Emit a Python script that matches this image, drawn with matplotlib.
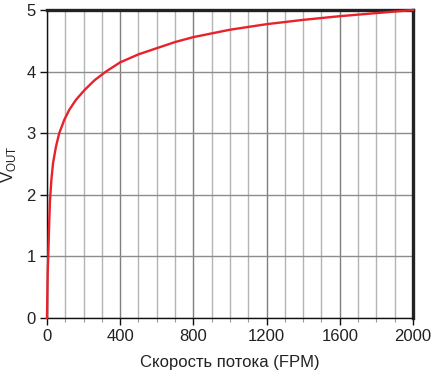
import matplotlib
matplotlib.use("Agg")
import matplotlib.pyplot as plt
from matplotlib.ticker import MultipleLocator

plt.rcParams['font.family'] = ['Liberation Sans', 'DejaVu Sans']
plt.rcParams['mathtext.fontset'] = 'custom'
plt.rcParams['mathtext.rm'] = 'Liberation Sans'

# flow speed (FPM) and output voltage
flow = [0, 2, 4, 7, 11, 16, 24, 33, 49, 67, 95, 122, 158, 205, 260, 322,
        400, 500, 600, 700, 800, 1000, 1200, 1400, 1600, 1800, 2000]
vout = [0, 0.4, 0.75, 1.0, 1.43, 1.88, 2.24, 2.51, 2.78, 3.0, 3.22, 3.38, 3.54, 3.70, 3.86, 4.0,
        4.15, 4.28, 4.38, 4.48, 4.56, 4.68, 4.77, 4.84, 4.90, 4.95, 5.0]

xticks = [0, 400, 800, 1200, 1600, 2000]
yticks = [0, 1, 2, 3, 4, 5]

fig = plt.figure(figsize=(4.37, 3.78), dpi=100)
ax = fig.add_axes([0.1075, 0.159, 0.8375, 0.8145])

ax.plot(flow, vout, color='#e8212b', linewidth=1.7, zorder=5, clip_on=False,
        solid_joinstyle='round')

ax.set_xlim(0, 2000)
ax.set_ylim(0, 5)
ax.set_xticks(xticks)
ax.set_yticks(yticks)
ax.xaxis.set_minor_locator(MultipleLocator(100))

# grid: light every 100, darker every 400, horizontal at each volt
ax.grid(which='minor', axis='x', color='#b4b4b4', linewidth=1.0)
ax.grid(which='major', axis='x', color='#7f7f7f', linewidth=1.0)
ax.grid(which='major', axis='y', color='#8c8c8c', linewidth=1.0)
ax.set_axisbelow(True)

for side in ['left', 'bottom']:
    ax.spines[side].set_linewidth(1.0)
    ax.spines[side].set_color('#111111')
for side in ['top', 'right']:
    ax.spines[side].set_linewidth(2.4)
    ax.spines[side].set_color('#222222')

ax.tick_params(which='major', direction='out', length=5, width=1.0, colors='#111111',
               labelsize=12, labelcolor='#222222', pad=3)
ax.tick_params(which='minor', direction='out', length=3, width=0.8, colors='#999999')

ax.set_xlabel('Скорость потока (FPM)', fontsize=12, color='#222222', labelpad=8)
ax.set_ylabel('V$_{\\mathrm{OUT}}$', fontsize=12, color='#222222', labelpad=6)

fig.savefig('out.png', dpi=100)
